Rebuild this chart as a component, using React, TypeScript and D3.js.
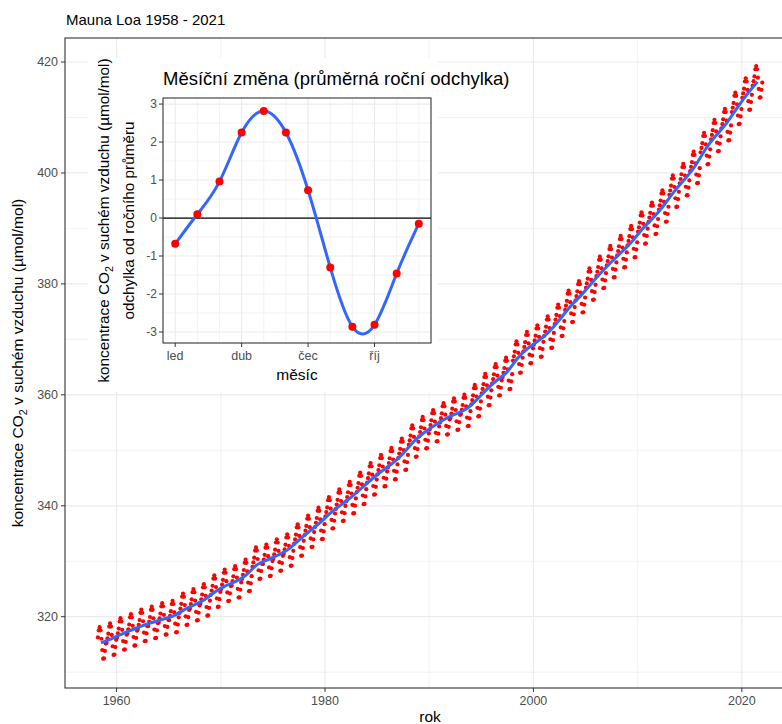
import React from "react";
import * as d3 from "d3";

// annual means of CO2 at Mauna Loa (µmol/mol), 1958..2021
const years = d3.range(1958, 2022);
const annualMean = [
  315.3, 315.98, 316.91, 317.64, 318.45, 318.99, 319.62, 320.04, 321.37, 322.18,
  323.05, 324.62, 325.68, 326.32, 327.46, 329.68, 330.19, 331.13, 332.03, 333.84,
  335.41, 336.84, 338.76, 340.12, 341.48, 343.15, 344.87, 346.35, 347.61, 349.31,
  351.69, 353.2, 354.45, 355.7, 356.54, 357.21, 358.96, 360.97, 362.74, 363.88,
  366.84, 368.54, 369.71, 371.32, 373.45, 375.98, 377.7, 379.98, 382.09, 384.02,
  385.83, 387.64, 390.1, 391.85, 394.06, 396.74, 398.81, 401.01, 404.41, 406.76,
  408.72, 411.66, 414.24, 416.45,
];

// mean monthly deviation from the annual mean (inset)
const months = [1, 2, 3, 4, 5, 6, 7, 8, 9, 10, 11, 12];
const monthOffset = [-0.68, 0.1, 0.96, 2.25, 2.82, 2.25, 0.73, -1.3, -2.86, -2.81, -1.46, -0.15];
const monthTicks = [1, 4, 7, 10];
const monthLabels = ["led", "dub", "čec", "říj"];

const yearTicks = [1960, 1980, 2000, 2020];
const yearMinor = [1970, 1990, 2010];
const co2Ticks = [320, 340, 360, 380, 400, 420];
const co2Minor = [310, 330, 350, 370, 390, 410];
const devTicks = [-3, -2, -1, 0, 1, 2, 3];
const devMinor = [-2.5, -1.5, -0.5, 0.5, 1.5, 2.5];

// monthly observations: annual mean + that month's seasonal deviation (series starts March 1958)
const monthly = years.flatMap((yr, i) =>
  months
    .filter((m) => !(yr === 1958 && m < 3))
    .map((m) => ({ t: yr + (m - 0.5) / 12, v: annualMean[i] + monthOffset[m - 1] }))
);

const FONT = "'Liberation Sans', Arial, Helvetica, sans-serif";
const GRID = "#EBEBEB";
const AXIS = "#333333";
const TICKTXT = "#4D4D4D";

function CO2Label({ x, y, size }: { x: number; y: number; size: number }) {
  return (
    <text x={x} y={y} transform={`rotate(-90,${x},${y})`} textAnchor="middle" fontSize={size} fill="#000" fontFamily={FONT}>
      koncentrace CO<tspan fontSize={size * 0.7} dy={size * 0.25}>2</tspan>
      <tspan dy={-size * 0.25}> v suchém vzduchu (µmol/mol)</tspan>
    </text>
  );
}

export default function App() {
  // main panel
  const L = 65, T = 38, R = 795, B = 688;
  const x = d3.scaleLinear().domain([1955.05, 2025.1]).range([L, R]);
  const y = d3.scaleLinear().domain([307.15, 424.33]).range([B, T]);
  const trend = d3
    .line<number>()
    .x((_, i) => x(years[i] + 0.5))
    .y((d) => y(d))
    .curve(d3.curveBasis)(annualMean) as string;

  // inset panel
  const iL = 163, iT = 98, iR = 431, iB = 343;
  const ix = d3.scaleLinear().domain([0.45, 12.55]).range([iL, iR]);
  const iy = d3.scaleLinear().domain([-3.29, 3.16]).range([iB, iT]);
  const seasonal = d3
    .line<number>()
    .x((_, i) => ix(months[i]))
    .y((d) => iy(d))
    .curve(d3.curveNatural)(monthOffset) as string;

  return (
    <svg width={782} height={724} style={{ position: "absolute", left: 0, top: 0, background: "#fff" }} fontFamily={FONT}>
      <defs>
        <clipPath id="main-clip">
          <rect x={L} y={T} width={R - L} height={B - T} />
        </clipPath>
      </defs>
      <rect width={782} height={724} fill="#fff" />
      <text x={66} y={25} fontSize={15} fill="#000">Mauna Loa 1958 - 2021</text>

      {/* main grid */}
      {co2Minor.map((v) => (
        <line key={"hm" + v} x1={L} x2={R} y1={y(v)} y2={y(v)} stroke={GRID} strokeWidth={0.6} />
      ))}
      {co2Ticks.map((v) => (
        <line key={"hM" + v} x1={L} x2={R} y1={y(v)} y2={y(v)} stroke={GRID} strokeWidth={1.2} />
      ))}
      {yearMinor.map((v) => (
        <line key={"vm" + v} x1={x(v)} x2={x(v)} y1={T} y2={B} stroke={GRID} strokeWidth={0.6} />
      ))}
      {yearTicks.map((v) => (
        <line key={"vM" + v} x1={x(v)} x2={x(v)} y1={T} y2={B} stroke={GRID} strokeWidth={1.2} />
      ))}

      <g clipPath="url(#main-clip)">
        {monthly.map((d, i) => (
          <circle key={i} cx={x(d.t)} cy={y(d.v)} r={2.1} fill="#FF0000" />
        ))}
        <path d={trend} fill="none" stroke="#3366FF" strokeWidth={3} />
      </g>
      <rect x={L} y={T} width={R - L} height={B - T} fill="none" stroke={AXIS} strokeWidth={1.1} />

      {/* main axes */}
      {co2Ticks.map((v) => (
        <g key={"yt" + v}>
          <line x1={L - 4} x2={L} y1={y(v)} y2={y(v)} stroke={AXIS} />
          <text x={L - 7} y={y(v)} dy="0.35em" textAnchor="end" fontSize={12.5} fill={TICKTXT}>{v}</text>
        </g>
      ))}
      {yearTicks.map((v) => (
        <g key={"xt" + v}>
          <line x1={x(v)} x2={x(v)} y1={B} y2={B + 4} stroke={AXIS} />
          <text x={x(v)} y={B + 17} textAnchor="middle" fontSize={12.5} fill={TICKTXT}>{v}</text>
        </g>
      ))}
      <text x={(L + R) / 2} y={722} textAnchor="middle" fontSize={15.5} fill="#000">rok</text>
      <CO2Label x={23} y={(T + B) / 2} size={15.5} />

      {/* inset */}
      <rect x={88} y={58} width={350} height={334} fill="#fff" />
      <text x={163} y={85} fontSize={18.5} fill="#000">Měsíční změna (průměrná roční odchylka)</text>
      <rect x={iL} y={iT} width={iR - iL} height={iB - iT} fill="#fff" />
      {devMinor.map((v) => (
        <line key={"dm" + v} x1={iL} x2={iR} y1={iy(v)} y2={iy(v)} stroke={GRID} strokeWidth={0.6} />
      ))}
      {devTicks.map((v) => (
        <line key={"dM" + v} x1={iL} x2={iR} y1={iy(v)} y2={iy(v)} stroke={GRID} strokeWidth={1.1} />
      ))}
      {months.map((m) => (
        <line key={"mm" + m} x1={ix(m)} x2={ix(m)} y1={iT} y2={iB} stroke={GRID} strokeWidth={monthTicks.includes(m) ? 1.1 : 0.6} />
      ))}
      <line x1={iL} x2={iR} y1={iy(0)} y2={iy(0)} stroke="#000" strokeWidth={1.3} />
      <path d={seasonal} fill="none" stroke="#3366FF" strokeWidth={3} />
      {monthOffset.map((v, i) => (
        <circle key={"md" + i} cx={ix(months[i])} cy={iy(v)} r={4} fill="#FF0000" />
      ))}
      <rect x={iL} y={iT} width={iR - iL} height={iB - iT} fill="none" stroke={AXIS} strokeWidth={1.1} />
      {devTicks.map((v) => (
        <g key={"dt" + v}>
          <line x1={iL - 4} x2={iL} y1={iy(v)} y2={iy(v)} stroke={AXIS} />
          <text x={iL - 6} y={iy(v)} dy="0.35em" textAnchor="end" fontSize={12} fill={TICKTXT}>{v}</text>
        </g>
      ))}
      {monthTicks.map((m, i) => (
        <g key={"mt" + m}>
          <line x1={ix(m)} x2={ix(m)} y1={iB} y2={iB + 4} stroke={AXIS} />
          <text x={ix(m)} y={iB + 17} textAnchor="middle" fontSize={12.5} fill={TICKTXT}>{monthLabels[i]}</text>
        </g>
      ))}
      <text x={(iL + iR) / 2} y={380} textAnchor="middle" fontSize={15.5} fill="#000">měsíc</text>
      <CO2Label x={109} y={(iT + iB) / 2} size={15.3} />
      <text x={134} y={(iT + iB) / 2} transform={`rotate(-90,134,${(iT + iB) / 2})`} textAnchor="middle" fontSize={15.3} fill="#000">
        odchylka od ročního průměru
      </text>
    </svg>
  );
}
